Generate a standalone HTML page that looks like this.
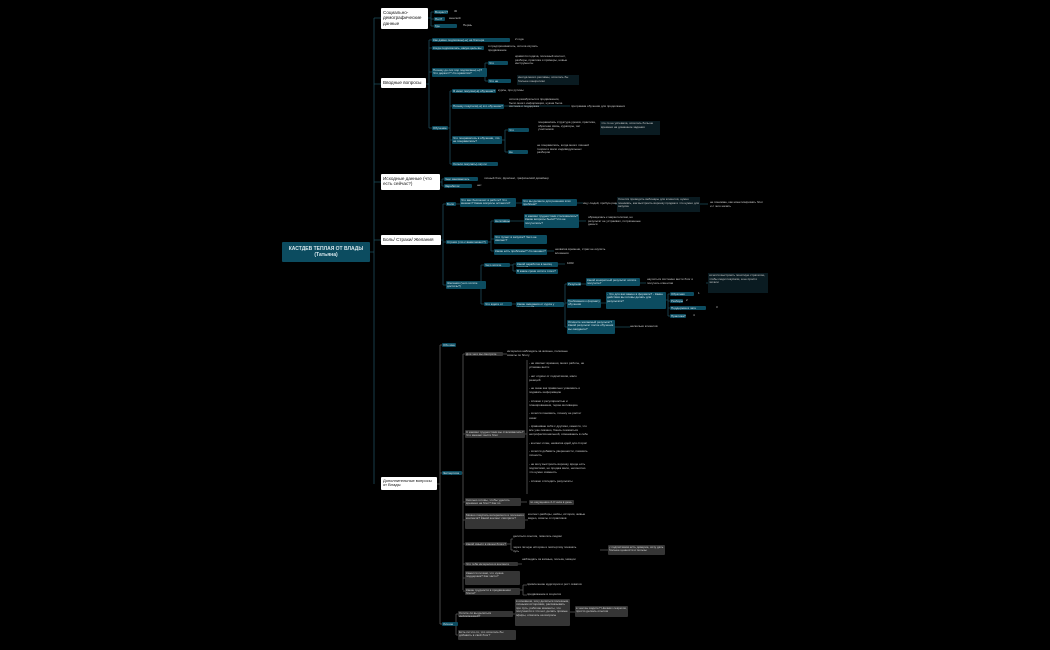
<!DOCTYPE html>
<html><head><meta charset="utf-8">
<style>
body{margin:0;width:1050px;height:650px;background:#000;overflow:hidden;position:relative;font-family:"Liberation Sans","Noto Sans CJK SC",sans-serif}
div{position:absolute;box-sizing:border-box;overflow:hidden}
.t{background:#0c4c60;color:#d6e6ec;font-size:3px;line-height:3.6px;padding:0.5px 1px;border-radius:1px}
.g{background:#353535;color:#d0d0d0;font-size:3px;line-height:3.6px;padding:0.5px 1px;border-radius:1px}
.x{color:#c8c8c8;font-size:3px;line-height:3.6px}
.d{background:#0a1b21;color:#c8c8c8;font-size:3px;line-height:3.6px;padding:1px}
.w{background:#fff;color:#111;font-size:4.6px;line-height:5.6px;padding:1.5px 2px;border-radius:1px}
svg{position:absolute;left:0;top:0}
</style></head><body>
<svg width="1050" height="650" fill="none" stroke-width="0.8">
<g stroke="#1d4d5c">
<path d="M370 252H374M374 18V484M374 18H381M374 84H381M374 182H381M374 240H381"/>
<path d="M428 18H431M431 12V26M431 12H434M431 19H434M431 26H434"/>
<path d="M426 84H429M429 40V128M429 40H432M429 48H432M429 72H432M429 128H432"/>
<path d="M487 72H485M485 63V81M485 63H488M485 81H488"/>
<path d="M448 128H450M450 91V164M450 91H452M450 106H452M450 140H452M450 164H452"/>
<path d="M502 140H505M505 130V152M505 130H508M505 152H508M504 106H570"/>
<path d="M440 182H442M442 179V186M442 179H444M442 186H444"/>
<path d="M441 240H443M443 204V285M443 204H446M443 242H446M443 285H446"/>
<path d="M456 204H460M516 203H522M577 203H583M615 204H618M700 204H708"/>
<path d="M488 242H491M491 221V251M491 221H494M491 239H494M491 251H494M510 221H524M579 221H586M547 251H554"/>
<path d="M486 285H481M481 265V304M481 265H484M481 304H484M510 265H513M513 264V271M513 264H516M513 271H516M558 264H565"/>
<path d="M512 304H516M564 304H565M565 284V327M565 284H567M565 303H567M565 327H567M581 284H586M640 283H646M706 283H708M601 303H606M666 300H668M668 294V316M668 294H670M668 301H670M668 308H670M668 316H670M615 327H630"/>
</g>
<g stroke="#5a5a5a">
<path d="M437 484H440M440 345V624M440 345H442M440 473H442M440 624H442"/>
<path d="M462 473H463M463 354V590M463 354H465M463 434H465M463 502H465M463 520H465M463 544H465M463 564H465M463 578H465M463 591H465"/>
<path d="M503 354H507M525 434H527M527 360V494M521 502H527M525 520H528M507 544H511M511 539V550M511 539H513M511 550H513M600 550H608M518 564H522M520 590H523M523 585V595M523 585H527M523 595H527"/>
<path d="M458 624H456M456 614V635M456 614H458M456 635H458M513 614H515M570 612H575"/>
</g>
</svg>

<div class="t" style="left:282px;top:242px;width:88px;height:20px;font-size:5px;line-height:6px;text-align:center;padding-top:3.5px;font-weight:bold">КАСТДЕВ ТЕПЛАЯ ОТ ВЛАДЫ (Татьяна)</div>

<div class="w" style="left:381px;top:8px;width:47px;height:21px">Социально-демографические данные</div>
<div class="w" style="left:381px;top:78px;width:45px;height:10px">Вводные вопросы</div>
<div class="w" style="left:381px;top:174px;width:59px;height:16px">Исходные данные (что есть сейчас?)</div>
<div class="w" style="left:381px;top:235px;width:60px;height:10px">Боль/ Страхи/ Желания</div>
<div class="w" style="left:381px;top:477px;width:56px;height:13px;font-size:4px;line-height:4.6px">Дополнительные вопросы от Влады</div>

<div class="t" style="left:434px;top:10px;width:14px;height:4px">Возраст?</div><div class="x" style="left:454px;top:10px">30</div>
<div class="t" style="left:434px;top:17px;width:11px;height:4px">Пол?</div><div class="x" style="left:449px;top:17px">женский</div>
<div class="t" style="left:434px;top:24px;width:23px;height:4px">Где проживаете?</div><div class="x" style="left:463px;top:24px">Пермь</div>

<div class="t" style="left:432px;top:38px;width:78px;height:4px">Как давно подписаны(-ы) на блогера</div><div class="x" style="left:515px;top:38px">2 года</div>
<div class="t" style="left:432px;top:46px;width:52px;height:4px">Когда подписались, какую цель вы ставили?</div><div class="x" style="left:488px;top:45px;width:60px">я предприниматель, хотела изучать продвижение</div>
<div class="t" style="left:432px;top:68px;width:55px;height:9px">Почему до сих пор подписаны(-ы)? Что держит? Что нравится?</div>
<div class="t" style="left:488px;top:61px;width:20px;height:4px">Что нравится?</div><div class="x" style="left:515px;top:55px;width:62px;height:15px">нравится подача, полезный контент, разборы, практика и примеры, новые инструменты</div>
<div class="t" style="left:488px;top:79px;width:23px;height:4px">Что не нравится?</div><div class="d" style="left:517px;top:75px;width:62px;height:10px">иногда много рекламы, хотелось бы больше конкретики</div>
<div class="t" style="left:452px;top:89px;width:44px;height:4px">Я имел покупки(-а) обучение?</div><div class="x" style="left:498px;top:89px">курсы, про рутины</div>
<div class="t" style="left:452px;top:104px;width:52px;height:5px">Почему покупали(-а) это обучение?</div><div class="x" style="left:509px;top:98px;width:58px;height:18px">хотела разобраться в продвижении, было много информации, нужна была система и поддержка</div><div class="x" style="left:571px;top:105px">программа обучения для продолжения</div>
<div class="t" style="left:432px;top:126px;width:16px;height:4px">Обучение</div>
<div class="t" style="left:452px;top:136px;width:50px;height:8px">Что понравилось в обучении, что не понравилось?</div>
<div class="t" style="left:508px;top:128px;width:21px;height:4px">Что понравилось</div><div class="x" style="left:538px;top:121px;width:58px;height:15px">понравилась структура уроков, практика, обратная связь, кураторы, чат участников</div>
<div class="d" style="left:600px;top:121px;width:60px;height:14px">что-то не успевала, хотелось больше времени на домашние задания</div>
<div class="t" style="left:508px;top:150px;width:20px;height:4px">Не понравилось</div><div class="x" style="left:537px;top:144px;width:58px;height:15px">не понравилось, когда много лишней теории и мало индивидуальных разборов</div>
<div class="t" style="left:452px;top:162px;width:46px;height:4px">Хотели покупать(-ла) ли вновь?</div>

<div class="t" style="left:444px;top:177px;width:34px;height:4px">Чем занимаетесь сейчас?</div><div class="x" style="left:484px;top:177px">личный блог, фриланс, графический дизайнер</div>
<div class="t" style="left:444px;top:184px;width:28px;height:4px">Заработок сейчас?</div><div class="x" style="left:477px;top:184px">нет</div>

<div class="t" style="left:446px;top:202px;width:10px;height:4px">Боли</div>
<div class="t" style="left:460px;top:198px;width:56px;height:9px">Что вас беспокоит в работе? Что мешает? Какие вопросы остаются?</div>
<div class="t" style="left:522px;top:199px;width:55px;height:7px">Что вы делаете для решения этих проблем?</div>
<div class="x" style="left:583px;top:202px">ищу людей, пробую разные форматы</div>
<div class="d" style="left:617px;top:197px;width:83px;height:15px">Хочется проводить вебинары для клиентов, нужно понимать, как выстроить воронку продаж и что нужно для запуска</div>
<div class="x" style="left:710px;top:201px;width:55px">не понимаю, как монетизировать блог и с чего начать</div>
<div class="t" style="left:446px;top:240px;width:42px;height:4px">Страхи (что с вами может?)</div>
<div class="t" style="left:494px;top:219px;width:16px;height:4px">Негативный опыт</div>
<div class="t" style="left:524px;top:214px;width:55px;height:14px">С какими трудностями сталкивались? Какие вопросы были? Что не получилось?</div>
<div class="x" style="left:588px;top:216px;width:56px;height:14px">обращалась к маркетологам, но результат не устраивал, потраченные деньги</div>
<div class="t" style="left:494px;top:235px;width:53px;height:9px">Что пугает в запуске? Чего не хватает?</div>
<div class="t" style="left:494px;top:249px;width:53px;height:6px">Какие есть проблемы? Что мешает?</div>
<div class="x" style="left:555px;top:248px;width:55px">нехватка времени, страх не окупить вложения</div>
<div class="t" style="left:446px;top:281px;width:40px;height:8px">Желания (чего хотите достичь?)</div>
<div class="t" style="left:484px;top:263px;width:26px;height:4px">Чего хотите сейчас?</div>
<div class="t" style="left:516px;top:262px;width:42px;height:5px">Какой заработок в месяц хотите?</div><div class="x" style="left:567px;top:262px">100К</div>
<div class="t" style="left:516px;top:269px;width:42px;height:5px">В какие сроки хотите этого?</div>
<div class="t" style="left:484px;top:302px;width:28px;height:4px">Что ждете от курса?</div>
<div class="t" style="left:516px;top:302px;width:48px;height:5px">Какие ожидания от курса у участников?</div>
<div class="t" style="left:567px;top:282px;width:14px;height:4px">Результат</div>
<div class="t" style="left:586px;top:278px;width:54px;height:8px">Какой конкретный результат хотите получить?</div>
<div class="x" style="left:647px;top:278px;width:58px">научиться системно вести блог и получать клиентов</div>
<div class="d" style="left:708px;top:273px;width:60px;height:20px">хочется выстроить понятную стратегию, чтобы люди покупали, а не просто читали</div>
<div class="t" style="left:567px;top:299px;width:34px;height:9px">Требования к формату обучения</div>
<div class="t" style="left:606px;top:292px;width:60px;height:17px">- Что для вас важно в формате? - Какие действия вы готовы делать для результата?</div>
<div class="t" style="left:670px;top:292px;width:24px;height:4px">Обратная связь?</div><div class="x" style="left:698px;top:292px">1</div>
<div class="t" style="left:670px;top:299px;width:13px;height:4px">Разборы?</div><div class="x" style="left:686px;top:299px">2</div>
<div class="t" style="left:670px;top:306px;width:36px;height:4px">Поддержка в чате участников?</div><div class="x" style="left:716px;top:306px">3</div>
<div class="t" style="left:670px;top:314px;width:16px;height:4px">Практика?</div><div class="x" style="left:693px;top:314px">4</div>
<div class="t" style="left:567px;top:320px;width:48px;height:14px">Опишите желаемый результат? Какой результат после обучения вы ожидаете?</div>
<div class="x" style="left:630px;top:325px">несколько клиентов</div>

<div class="t" style="left:442px;top:343px;width:14px;height:4px">Обо мне</div>
<div class="t" style="left:442px;top:471px;width:20px;height:4px">Экспертиза</div>
<div class="t" style="left:442px;top:622px;width:16px;height:4px">Личное</div>

<div class="g" style="left:465px;top:352px;width:38px;height:4px">Для чего вы смотрите блог</div>
<div class="x" style="left:507px;top:350px;width:62px">интересно наблюдать за жизнью, полезные советы по блогу</div>
<div class="g" style="left:465px;top:430px;width:60px;height:8px">С какими трудностями вы сталкивались? Что мешает вести блог</div>
<div class="x" style="left:529px;top:361px;width:60px;height:134px;line-height:4.2px">- не хватает времени, много работы, не успеваю вести<br><br>- нет отдачи от подписчиков, мало реакций<br><br>- не знаю как правильно упаковать и подавать информацию<br><br>- сложно с регулярностью и планированием, теряю мотивацию<br><br>- хочется понимать, почему не растет охват<br><br>- сравниваю себя с другими, кажется, что все уже сказано, боюсь показаться непрофессиональной, сомневаюсь в себе<br><br>- контент-план, нехватка идей для сторис<br><br>- хочется добавить уверенности, показать личность<br><br>- не могу выстроить воронку, вроде есть подписчики, но продаж мало, непонятно что нужно изменить<br><br>- сложно отследить результаты</div>
<div class="g" style="left:465px;top:498px;width:56px;height:8px">Сколько готовы, чтобы уделять времени на блог? Как по собственному ощущению?</div>
<div class="g" style="left:529px;top:500px;width:45px;height:5px">по ощущению 2-3 часа в день</div>
<div class="g" style="left:465px;top:513px;width:60px;height:16px">Можно покупать интересного и полезного контента? Какой контент смотрите?</div>
<div class="x" style="left:528px;top:513px;width:60px;height:16px">контент-разборы, кейсы, истории, живые видео, советы от практиков</div>
<div class="g" style="left:465px;top:542px;width:42px;height:4px">Какой смысл в своем блоге?</div>
<div class="x" style="left:513px;top:535px;width:55px">делиться опытом, помогать людям</div>
<div class="x" style="left:513px;top:546px;width:68px">через личную историю и экспертизу показать путь</div>
<div class="g" style="left:608px;top:545px;width:57px;height:10px">у подписчиков есть доверие, хочу дать больше ценности и пользы</div>
<div class="g" style="left:465px;top:562px;width:53px;height:4px">Что тебе интересно в контенте других?</div>
<div class="x" style="left:522px;top:558px;width:62px">наблюдать за жизнью, польза, эмоции</div>
<div class="g" style="left:465px;top:571px;width:55px;height:14px">Кажется ли вам, что нужна поддержка? Как часто?</div>
<div class="g" style="left:465px;top:588px;width:55px;height:7px">Какие трудности в продвижении блога?</div>
<div class="x" style="left:527px;top:583px">привлечение аудитории и рост охватов</div>
<div class="x" style="left:527px;top:593px">продвижение в соцсетях</div>
<div class="g" style="left:458px;top:611px;width:55px;height:6px">Хотите ли вы делиться информацией?</div>
<div class="g" style="left:515px;top:599px;width:55px;height:27px">в основном, хочу делиться полезным, личными историями, рассказывать про путь, рабочие моменты, что получается и что нет, делать прямые эфиры, отвечать на вопросы</div>
<div class="g" style="left:575px;top:606px;width:53px;height:11px">в чем вы видите? Никаких секретов, просто делюсь опытом</div>
<div class="g" style="left:458px;top:630px;width:58px;height:10px">Есть ли что-то, что хотелось бы добавить в свой блог?</div>
</body></html>
